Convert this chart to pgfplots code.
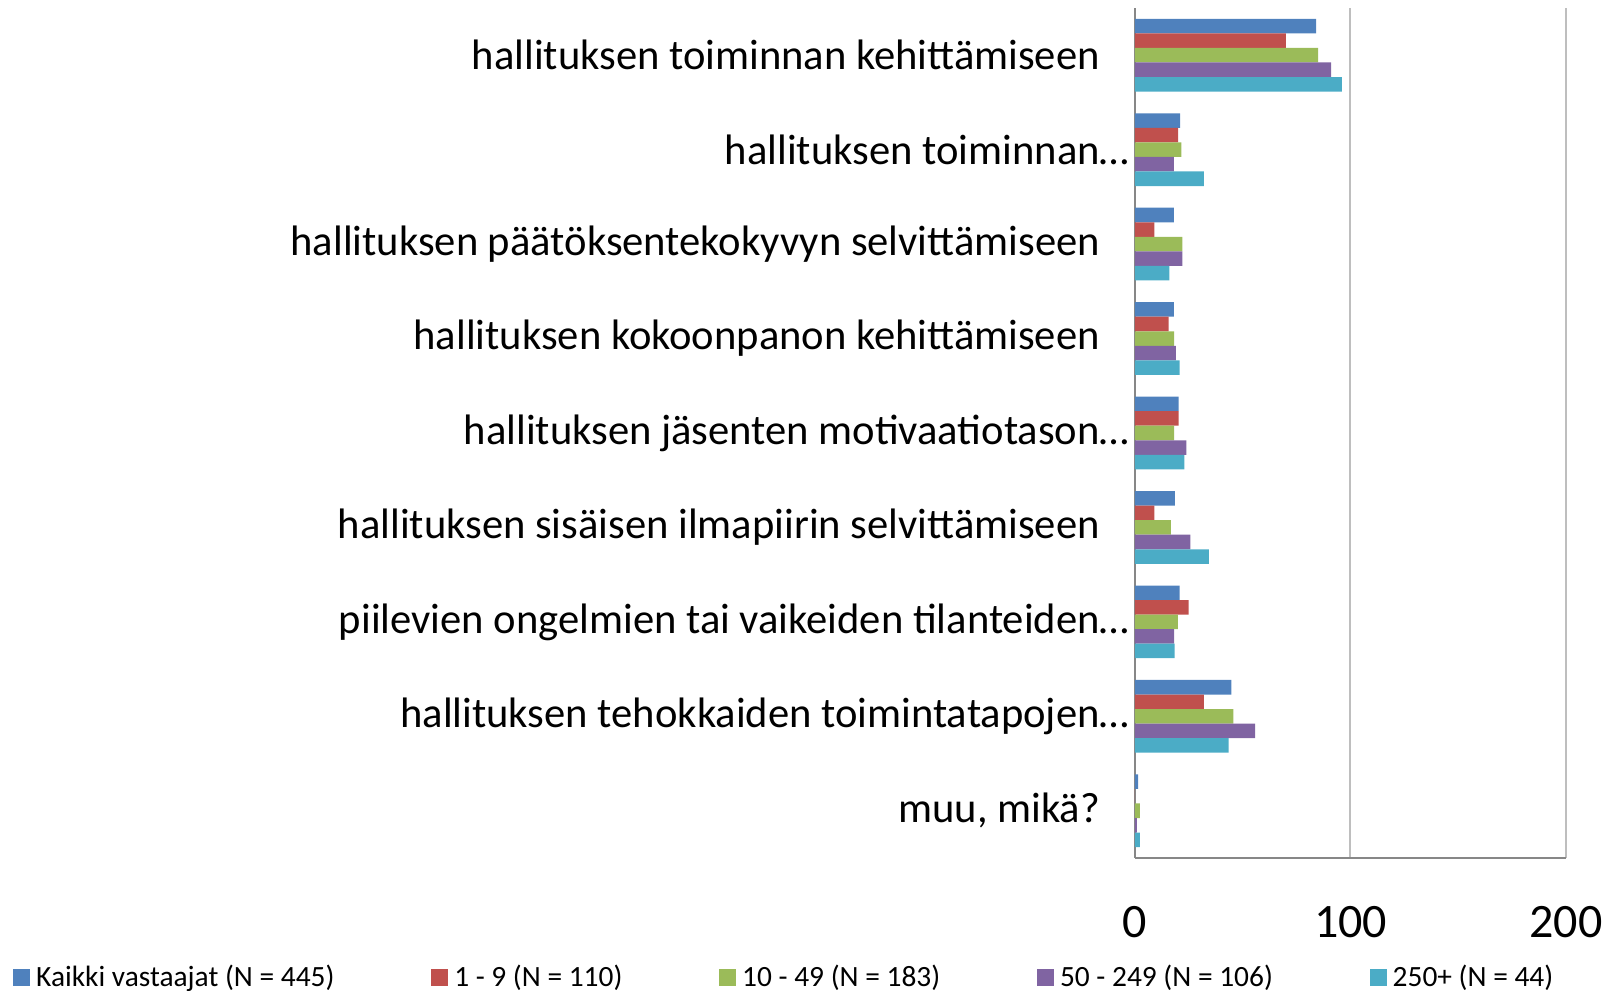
\documentclass[border=0pt]{standalone}
\usepackage{pgfplots}
\pgfplotsset{compat=1.18}
\usepackage{fontspec}
\setmainfont{Carlito}
\definecolor{c1}{HTML}{4F81BD}
\definecolor{c2}{HTML}{C0504D}
\definecolor{c3}{HTML}{9BBB59}
\definecolor{c4}{HTML}{8064A2}
\definecolor{c5}{HTML}{4BACC6}
\definecolor{axgray}{HTML}{878787}
\definecolor{gridgray}{HTML}{BEBEBE}
\pgfplotstableread{
cat all s1 s2 s3 s4
0 84 70 85 91 96
1 21 20 21.5 18 32
2 18 9 22 22 16
3 18 15.6 18.2 19 20.7
4 20.2 20.2 18.2 23.8 22.9
5 18.5 9 16.7 25.7 34.3
6 20.7 24.9 19.9 18.1 18.4
7 44.7 32 45.6 55.8 43.4
8 1.4 0 2.3 0.9 2.3
}\datatable
\begin{document}
\begin{tikzpicture}
\useasboundingbox (0,0) rectangle (809.5pt,495.5pt);
\begin{axis}[
  at={(567.5pt,491.5pt)}, anchor=north west,
  scale only axis, width=215.5pt, height=425pt,
  xbar, bar width=0.154,
  xmin=0, xmax=200, ymin=-0.5, ymax=8.5, y dir=reverse,
  xtick={0,100,200}, ytick={0,...,8},
  yticklabels={hallituksen toiminnan kehittämiseen,
    hallituksen toiminnan\rlap{…},
    hallituksen päätöksentekokyvyn selvittämiseen,
    hallituksen kokoonpanon kehittämiseen,
    hallituksen jäsenten motivaatiotason\rlap{…},
    hallituksen sisäisen ilmapiirin selvittämiseen,
    piilevien ongelmien tai vaikeiden tilanteiden\rlap{…},
    hallituksen tehokkaiden toimintatapojen\rlap{…},
    muu{,} mikä?},
  /pgf/number format/assume math mode=true,
  major tick length=0pt,
  axis x line*=bottom, axis y line*=left,
  axis line style={axgray, line width=1pt},
  xmajorgrids, grid style={gridgray, line width=1pt},
  xticklabel style={font=\fontsize{24}{26}\selectfont, yshift=-20.5pt},
  yticklabel style={font=\fontsize{21.3}{24}\selectfont, xshift=-14pt},
  legend columns=5,
  legend image code/.code={\fill[#1] (0pt,-4.2pt) rectangle (8.4pt,4.2pt);},
  legend style={at={(-561pt,-493pt)}, anchor=south west, draw=none, fill=none,
    font=\fontsize{14.7}{17}\selectfont, inner sep=0pt,
    /tikz/every even column/.append style={column sep=45.5pt},
    nodes={inner xsep=3pt}},
]
\addplot[fill=c1, draw=none, bar shift=-0.308] table[x=all, y=cat] {\datatable};
\addplot[fill=c2, draw=none, bar shift=-0.154] table[x=s1, y=cat] {\datatable};
\addplot[fill=c3, draw=none, bar shift=0] table[x=s2, y=cat] {\datatable};
\addplot[fill=c4, draw=none, bar shift=0.154] table[x=s3, y=cat] {\datatable};
\addplot[fill=c5, draw=none, bar shift=0.308] table[x=s4, y=cat] {\datatable};
\legend{Kaikki vastaajat (N = 445), 1 - 9 (N = 110), 10 - 49 (N = 183), 50 - 249 (N = 106), 250+ (N = 44)}
\end{axis}
\end{tikzpicture}
\end{document}
